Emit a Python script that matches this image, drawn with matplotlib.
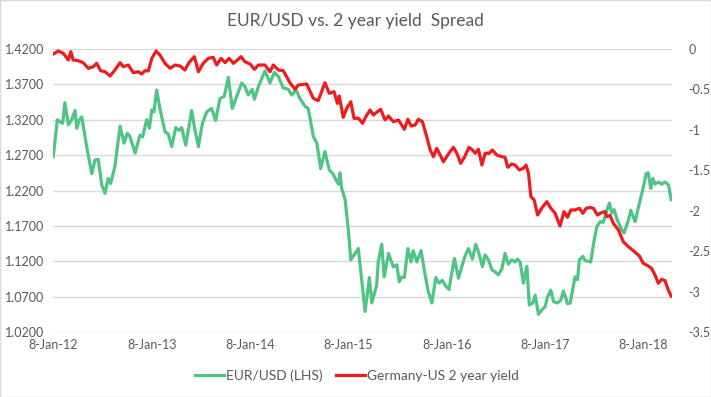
import matplotlib
matplotlib.use("Agg")
import matplotlib.pyplot as plt
from matplotlib.ticker import FixedLocator, FuncFormatter
from matplotlib.patches import Rectangle
import pandas as pd

plt.rcParams['font.family'] = ['Lato', 'DejaVu Sans']

title = "EUR/USD vs. 2 year yield  Spread"
start_date = "2012-01-08"
green_label = "EUR/USD (LHS)"
red_label = "Germany-US 2 year yield"

# days since 8-Jan-12
eur_days = [0, 15, 25, 35, 43, 56, 68, 81, 87, 97, 106, 124, 143, 155, 167, 180, 192, 204, 213, 229,
            248, 263, 275, 285, 304, 322, 332, 347, 357, 366, 374, 384, 396, 415, 427, 440, 455, 467, 477, 492,
            514, 526, 539, 554, 570, 588, 603, 619, 635, 650, 665, 681, 700, 712, 724, 739, 747, 762, 786, 805,
            821, 836, 854, 873, 886, 902, 916, 935, 947, 966, 979, 993, 1009, 1025, 1038, 1050, 1059, 1065, 1071, 1084,
            1096, 1105, 1121, 1133, 1158, 1174, 1183, 1201, 1207, 1220, 1229, 1245, 1263, 1276, 1285, 1294, 1304, 1317, 1329, 1337,
            1350, 1366, 1381, 1393, 1406, 1421, 1433, 1445, 1458, 1470, 1480, 1490, 1505, 1517, 1529, 1542, 1557, 1569, 1581, 1594,
            1604, 1616, 1629, 1641, 1653, 1666, 1678, 1690, 1703, 1715, 1724, 1734, 1746, 1759, 1768, 1781, 1790, 1802, 1814, 1827,
            1835, 1848, 1858, 1872, 1885, 1895, 1910, 1920, 1938, 1947, 1954, 1967, 1975, 1996, 2009, 2019, 2031, 2043, 2056, 2066,
            2074, 2083, 2095, 2112, 2120, 2136, 2145, 2161, 2177, 2190, 2202, 2210, 2219, 2227, 2235, 2248, 2260, 2272, 2285, 2295]
eur_usd = [1.268, 1.320, 1.317, 1.315, 1.344, 1.313, 1.320, 1.333, 1.308, 1.320, 1.324, 1.282, 1.244, 1.263, 1.264, 1.228, 1.216, 1.237, 1.230, 1.254,
           1.311, 1.287, 1.301, 1.296, 1.273, 1.298, 1.296, 1.320, 1.308, 1.334, 1.331, 1.362, 1.336, 1.303, 1.300, 1.282, 1.309, 1.305, 1.309, 1.284,
           1.333, 1.306, 1.282, 1.315, 1.331, 1.336, 1.319, 1.350, 1.353, 1.380, 1.336, 1.353, 1.372, 1.367, 1.355, 1.363, 1.349, 1.367, 1.389, 1.372,
           1.387, 1.381, 1.365, 1.363, 1.355, 1.362, 1.350, 1.339, 1.336, 1.296, 1.287, 1.251, 1.275, 1.249, 1.244, 1.235, 1.229, 1.245, 1.223, 1.207,
           1.164, 1.122, 1.131, 1.138, 1.049, 1.097, 1.061, 1.086, 1.119, 1.144, 1.098, 1.131, 1.112, 1.115, 1.091, 1.098, 1.097, 1.138, 1.119, 1.135,
           1.119, 1.135, 1.101, 1.077, 1.061, 1.097, 1.089, 1.093, 1.085, 1.080, 1.103, 1.124, 1.096, 1.112, 1.127, 1.138, 1.123, 1.144, 1.131, 1.112,
           1.129, 1.122, 1.108, 1.105, 1.101, 1.109, 1.131, 1.116, 1.122, 1.119, 1.123, 1.119, 1.089, 1.113, 1.058, 1.061, 1.072, 1.045, 1.051, 1.056,
           1.069, 1.079, 1.063, 1.061, 1.065, 1.078, 1.060, 1.061, 1.098, 1.094, 1.122, 1.127, 1.121, 1.119, 1.150, 1.169, 1.176, 1.175, 1.192, 1.202,
           1.188, 1.193, 1.178, 1.164, 1.160, 1.178, 1.192, 1.176, 1.202, 1.222, 1.244, 1.245, 1.223, 1.237, 1.229, 1.232, 1.229, 1.232, 1.228, 1.207]

spread_days = [0, 19, 37, 56, 65, 74, 93, 111, 130, 149, 161, 176, 192, 211, 229, 248, 260, 279, 297, 316,
               328, 341, 353, 366, 382, 396, 415, 434, 452, 471, 489, 504, 524, 539, 557, 576, 594, 607, 623, 638,
               653, 669, 681, 697, 712, 731, 747, 762, 786, 805, 817, 836, 854, 879, 898, 910, 941, 966, 984, 1009,
               1025, 1043, 1055, 1062, 1077, 1090, 1105, 1117, 1133, 1149, 1162, 1177, 1189, 1204, 1216, 1232, 1245, 1263, 1282, 1304,
               1317, 1329, 1344, 1356, 1371, 1387, 1400, 1412, 1424, 1437, 1449, 1465, 1486, 1499, 1513, 1527, 1544, 1557, 1567, 1579,
               1592, 1604, 1619, 1631, 1647, 1666, 1678, 1688, 1703, 1715, 1731, 1746, 1756, 1765, 1774, 1786, 1799, 1814, 1833, 1848,
               1864, 1882, 1897, 1910, 1922, 1938, 1954, 1967, 1979, 1994, 2006, 2021, 2037, 2049, 2056, 2068, 2080, 2099, 2117, 2136,
               2154, 2177, 2191, 2210, 2222, 2235, 2247, 2260, 2272, 2285, 2295]
spread = [-0.062, -0.025, -0.053, -0.136, -0.033, -0.136, -0.145, -0.169, -0.239, -0.219, -0.177, -0.268, -0.281, -0.334, -0.260, -0.169, -0.219, -0.198, -0.293, -0.281,
          -0.309, -0.268, -0.272, -0.115, -0.025, -0.074, -0.177, -0.239, -0.198, -0.210, -0.260, -0.169, -0.095, -0.281, -0.177, -0.115, -0.103, -0.198, -0.115, -0.169,
          -0.115, -0.177, -0.145, -0.095, -0.157, -0.186, -0.251, -0.198, -0.198, -0.281, -0.198, -0.260, -0.268, -0.417, -0.498, -0.445, -0.433, -0.610, -0.639, -0.417,
          -0.548, -0.528, -0.672, -0.581, -0.845, -0.733, -0.652, -0.857, -0.857, -0.919, -0.829, -0.754, -0.816, -0.775, -0.746, -0.878, -0.829, -0.899, -0.878, -0.993,
          -0.869, -0.952, -0.940, -0.869, -0.899, -1.085, -1.249, -1.332, -1.228, -1.311, -1.394, -1.311, -1.216, -1.290, -1.414, -1.339, -1.216, -1.249, -1.290, -1.240,
          -1.435, -1.290, -1.290, -1.249, -1.311, -1.332, -1.339, -1.463, -1.422, -1.435, -1.496, -1.475, -1.435, -1.537, -1.827, -1.867, -2.053, -1.970, -1.888, -1.970,
          -2.032, -2.189, -2.012, -2.081, -1.991, -1.991, -1.970, -2.032, -1.970, -1.960, -1.970, -2.053, -2.022, -2.012, -2.074, -2.059, -2.156, -2.238, -2.383, -2.445,
          -2.494, -2.560, -2.650, -2.684, -2.712, -2.795, -2.898, -2.848, -2.865, -2.989, -3.055]

left_ticks = [1.02, 1.07, 1.12, 1.17, 1.22, 1.27, 1.32, 1.37, 1.42]
right_ticks = [-3.5, -3.0, -2.5, -2.0, -1.5, -1.0, -0.5, 0.0]
tick_years = [2012, 2013, 2014, 2015, 2016, 2017, 2018]

green = "#4FC485"
red = "#EE1C1C"
txt = "#595959"
grid = "#D9D9D9"

t0 = pd.Timestamp(start_date)
eur_dates = [t0 + pd.Timedelta(days=d) for d in eur_days]
spr_dates = [t0 + pd.Timedelta(days=d) for d in spread_days]

fig = plt.figure(figsize=(7.11, 3.97), dpi=100)
fig.patches.append(Rectangle((0.0007, 0.0012), 0.9986, 0.9976, transform=fig.transFigure,
                             fill=False, edgecolor=grid, linewidth=1.0))
ax = fig.add_axes([53 / 711, 1 - 332 / 397, (672 - 53) / 711, (332 - 49) / 397])
ax2 = ax.twinx()

l1, = ax.plot(eur_dates, eur_usd, color=green, lw=2.3, solid_joinstyle='round', label=green_label)
l2, = ax2.plot(spr_dates, spread, color=red, lw=2.3, solid_joinstyle='round', label=red_label)

ax.set_ylim(1.02, 1.42)
ax2.set_ylim(-3.5, 0)
ax.set_xlim(t0 - pd.Timedelta(days=1), t0 + pd.Timedelta(days=2298))

ax.yaxis.set_major_locator(FixedLocator(left_ticks))
ax.yaxis.set_major_formatter(FuncFormatter(lambda v, p: f"{v:.4f}"))
ax2.yaxis.set_major_locator(FixedLocator(right_ticks))
ax2.yaxis.set_major_formatter(FuncFormatter(lambda v, p: f"{v:g}"))

xt = [pd.Timestamp(year=y, month=1, day=8) for y in tick_years]
ax.set_xticks(xt)
ax.set_xticklabels([f"8-Jan-{y % 100:02d}" for y in tick_years])

ax.grid(axis='y', color=grid, lw=1.0)
ax.set_axisbelow(True)
for a in (ax, ax2):
    for s in a.spines.values():
        s.set_visible(False)
    a.tick_params(length=0, labelsize=9, colors=txt)
ax.tick_params(axis='y', pad=6)
ax2.tick_params(axis='y', pad=12)
ax.tick_params(axis='x', pad=5)

fig.text(0.5, 1 - 21 / 397, title, ha='center', va='center', fontsize=12.5, color=txt)
fig.legend([l1, l2], [green_label, red_label], loc='center', bbox_to_anchor=(0.502, 1 - 376 / 397),
           ncol=2, frameon=False, fontsize=9.9, handlelength=2.1, handletextpad=0.15,
           columnspacing=1.0, labelcolor=txt)

fig.savefig("out.png", dpi=100)
